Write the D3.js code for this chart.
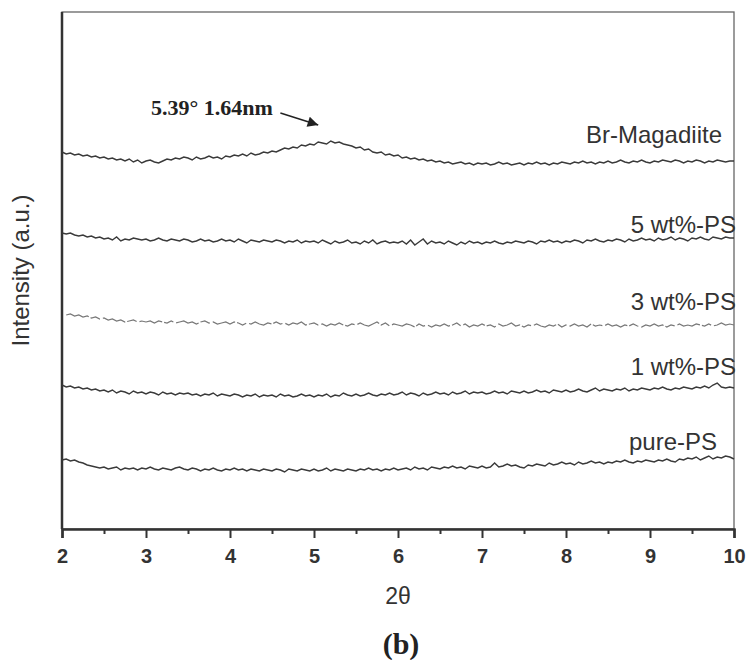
<!DOCTYPE html>
<html>
<head>
<meta charset="utf-8">
<script src="https://cdn.jsdelivr.net/npm/d3@7"></script>
<style>
  body { margin: 0; background: #fff; }
  svg { display: block; }
  .lbl { font-family: "Liberation Sans", Arial, sans-serif; font-size: 24px; fill: #333; }
</style>
</head>
<body>
<div id="chart"></div>
<script>
// 2theta from 2 to 10 step 0.05
var twoTheta = d3.range(161).map(function(i) { return 2 + i * 0.05; });

// intensities (a.u.)
var brMagadiite = [
  377,375,376,374,375,373,374,372,373,371,
  372,370,371,369,370,368,370,367,369,366,
  368,369,367,366,368,370,369,371,370,372,
  371,369,372,370,371,373,371,372,370,373,
  372,374,373,375,373,376,374,375,377,376,
  378,377,379,381,380,382,381,384,383,385,
  384,387,386,385,388,386,387,385,384,383,
  381,382,379,380,377,376,377,374,375,373,
  374,371,372,370,371,369,370,368,369,367,
  368,366,367,365,366,367,365,366,364,366,
  365,366,364,365,367,365,366,364,365,366,
  364,366,365,367,365,366,364,366,365,367,
  366,365,367,366,368,366,367,365,367,366,
  368,366,367,369,367,366,368,367,369,367,
  366,368,367,369,368,367,369,368,366,368,
  367,369,368,366,368,367,369,368,367,368,
  368];

var ps5 = [
  296,295,296,294,293,294,292,293,291,292,
  290,291,289,292,288,290,289,291,290,289,
  290,288,289,291,289,288,290,289,288,290,
  289,287,288,290,288,289,287,288,290,288,
  289,287,290,288,286,289,288,287,289,288,
  287,289,288,286,288,287,289,286,288,287,
  288,286,289,287,285,288,286,287,289,286,
  287,285,288,286,289,285,287,288,286,287,
  286,288,285,289,284,287,290,285,288,286,
  287,285,288,286,284,287,285,288,286,287,
  285,287,286,288,286,285,287,286,288,287,
  286,288,287,285,288,287,289,287,288,286,
  288,287,289,288,286,289,288,290,288,287,
  289,288,290,289,287,290,288,289,291,289,
  290,288,291,289,290,292,289,291,290,288,
  291,290,292,290,289,292,291,290,292,291,
  291];

var ps3 = [
  null,214,215,213,214,212,213,211,212,210,
  211,209,210,208,209,207,208,209,207,208,
  207,208,206,208,207,206,208,206,207,208,
  206,207,205,207,208,206,207,205,206,207,
  205,207,206,204,206,205,207,205,204,206,
  205,207,205,206,204,206,205,207,204,205,
  206,204,205,203,205,204,206,204,203,205,
  204,206,204,203,205,207,204,206,203,205,
  204,203,205,204,202,205,203,204,202,204,
  203,205,203,204,206,203,205,202,204,203,
  205,203,204,202,205,203,204,206,203,204,
  202,204,203,205,203,202,204,203,205,202,
  204,203,205,203,204,202,205,203,204,203,
  205,203,204,202,204,203,205,203,202,204,
  203,205,203,204,202,204,203,205,203,204,
  203,205,204,203,205,203,204,206,204,205,
  204];

var ps1 = [
  144,142,143,141,142,140,141,139,140,138,
  139,137,139,136,138,137,135,138,136,137,
  135,137,136,134,137,135,136,134,136,135,
  136,134,135,133,135,134,136,133,135,134,
  133,135,134,132,134,133,135,132,134,133,
  134,132,135,133,134,132,133,135,133,134,
  132,134,133,135,132,134,133,136,134,133,
  135,133,134,136,134,133,135,134,136,134,
  135,137,134,136,135,133,136,134,135,137,
  135,136,134,137,135,136,138,135,137,136,
  137,135,136,138,136,137,135,138,137,136,
  138,136,137,139,137,138,136,139,138,137,
  139,137,138,140,138,137,139,141,138,140,
  139,138,140,139,141,138,140,139,141,140,
  139,141,140,142,140,139,141,140,142,141,
  140,142,141,143,141,144,146,142,141,142,
  141];

var purePS = [
  69,70,68,69,67,66,64,63,62,61,
  62,60,61,62,59,61,60,61,59,61,
  60,62,60,59,61,60,59,61,62,60,
  59,61,60,58,60,59,61,59,58,60,
  59,61,59,60,58,60,59,58,60,59,
  58,60,59,57,60,59,58,60,59,58,
  60,58,59,61,58,60,59,58,60,59,
  58,60,59,61,59,60,58,60,59,61,
  59,60,61,59,62,60,61,59,62,61,
  60,62,61,63,61,62,60,63,62,61,
  63,61,62,66,62,63,65,63,64,62,
  61,64,63,65,64,63,66,64,65,67,
  65,66,64,67,65,66,68,66,67,65,
  67,66,68,67,69,67,66,68,67,69,
  68,67,69,68,70,68,67,70,69,71,
  70,72,69,71,73,70,72,71,73,72,
  70];

var seriesNames = ["Br-Magadiite", "5 wt%-PS", "3 wt%-PS", "1 wt%-PS", "pure-PS"];
var seriesValues = [brMagadiite, ps5, ps3, ps1, purePS];
// label baseline (a.u.) and right edge shift
var labelY = [386, 296, 219, 154, 79];
var labelDx = [-12, 2, 2, 2, -17];

var majorTicks = [2, 3, 4, 5, 6, 7, 8, 9, 10];
var minorTicks = [2.5, 3.5, 4.5, 5.5, 6.5, 7.5, 8.5, 9.5];

var W = 748, H = 660;
var margin = {top: 12, right: 14, bottom: 131, left: 62};

var svg = d3.select("#chart").append("svg")
  .attr("width", W)
  .attr("height", H);

var x = d3.scaleLinear().domain([2, 10]).range([margin.left, W - margin.right]);
var y = d3.scaleLinear().domain([0, 517]).range([H - margin.bottom, margin.top]);

// frame: top/right thin
svg.append("rect")
  .attr("x", x(2)).attr("y", y(517))
  .attr("width", x(10) - x(2)).attr("height", y(0) - y(517))
  .attr("fill", "none").attr("stroke", "#666").attr("stroke-width", 1.3);

// minor ticks
svg.append("g")
  .attr("transform", "translate(0," + y(0) + ")")
  .call(d3.axisBottom(x).tickValues(minorTicks).tickSize(5).tickFormat(""))
  .call(function(g) { g.select(".domain").remove(); })
  .selectAll("line").attr("stroke", "#333").attr("stroke-width", 2);

// major ticks
var xAxis = svg.append("g")
  .attr("transform", "translate(0," + y(0) + ")")
  .call(d3.axisBottom(x).tickValues(majorTicks).tickSize(9).tickPadding(11).tickFormat(d3.format("d")));
xAxis.select(".domain").attr("stroke", "#333").attr("stroke-width", 2.5);
xAxis.selectAll(".tick line").attr("stroke", "#333").attr("stroke-width", 2);
xAxis.selectAll(".tick text")
  .style("font-family", "'Liberation Sans', Arial, sans-serif")
  .style("font-size", "20px")
  .style("font-weight", "bold")
  .attr("fill", "#333");

// left axis
svg.append("line")
  .attr("x1", x(2)).attr("x2", x(2))
  .attr("y1", y(517)).attr("y2", y(0))
  .attr("stroke", "#333").attr("stroke-width", 2.5);

var line = d3.line()
  .defined(function(d) { return d[1] != null; })
  .x(function(d) { return x(d[0]); })
  .y(function(d) { return y(d[1]); });

seriesValues.forEach(function(vals, i) {
  var pts = twoTheta.map(function(t, j) { return [t, vals[j]]; });
  svg.append("path")
    .attr("d", line(pts))
    .attr("fill", "none")
    .attr("stroke", i == 2 ? "#777" : "#3a3a3a")
    .attr("stroke-width", i == 2 ? 1.2 : 1.4)
    .attr("stroke-dasharray", i == 2 ? "24,2,10,3" : null);

  svg.append("text")
    .attr("class", "lbl")
    .attr("x", x(10) + labelDx[i])
    .attr("y", y(labelY[i]))
    .attr("text-anchor", "end")
    .text(seriesNames[i]);
});

// peak annotation
svg.append("defs").append("marker")
  .attr("id", "arr")
  .attr("viewBox", "0 0 10 10")
  .attr("refX", 10).attr("refY", 5)
  .attr("markerWidth", 9).attr("markerHeight", 7)
  .attr("orient", "auto")
  .append("path").attr("d", "M0,0L10,5L0,10z").attr("fill", "#222");

svg.append("line")
  .attr("x1", x(4.6)).attr("y1", y(416))
  .attr("x2", x(5.05)).attr("y2", y(404))
  .attr("stroke", "#222").attr("stroke-width", 1.5)
  .attr("marker-end", "url(#arr)");

svg.append("text")
  .attr("x", x(4.51)).attr("y", y(414))
  .attr("text-anchor", "end")
  .style("font-family", "'Liberation Serif', 'Times New Roman', serif")
  .style("font-weight", "bold")
  .style("font-size", "22px")
  .attr("fill", "#222")
  .text("5.39° 1.64nm");

// axis titles
svg.append("text")
  .attr("x", (x(2) + x(10)) / 2)
  .attr("y", 604)
  .attr("text-anchor", "middle")
  .attr("class", "lbl")
  .style("font-size", "23px")
  .text("2θ");

svg.append("text")
  .attr("transform", "translate(29," + (y(0) + y(517)) / 2 + ") rotate(-90)")
  .attr("text-anchor", "middle")
  .attr("class", "lbl")
  .text("Intensity (a.u.)");

svg.append("text")
  .attr("x", (x(2) + x(10)) / 2 + 3)
  .attr("y", 654)
  .attr("text-anchor", "middle")
  .style("font-family", "'Liberation Serif', 'Times New Roman', serif")
  .style("font-weight", "bold")
  .style("font-size", "30px")
  .attr("fill", "#222")
  .text("(b)");
</script>
</body>
</html>
